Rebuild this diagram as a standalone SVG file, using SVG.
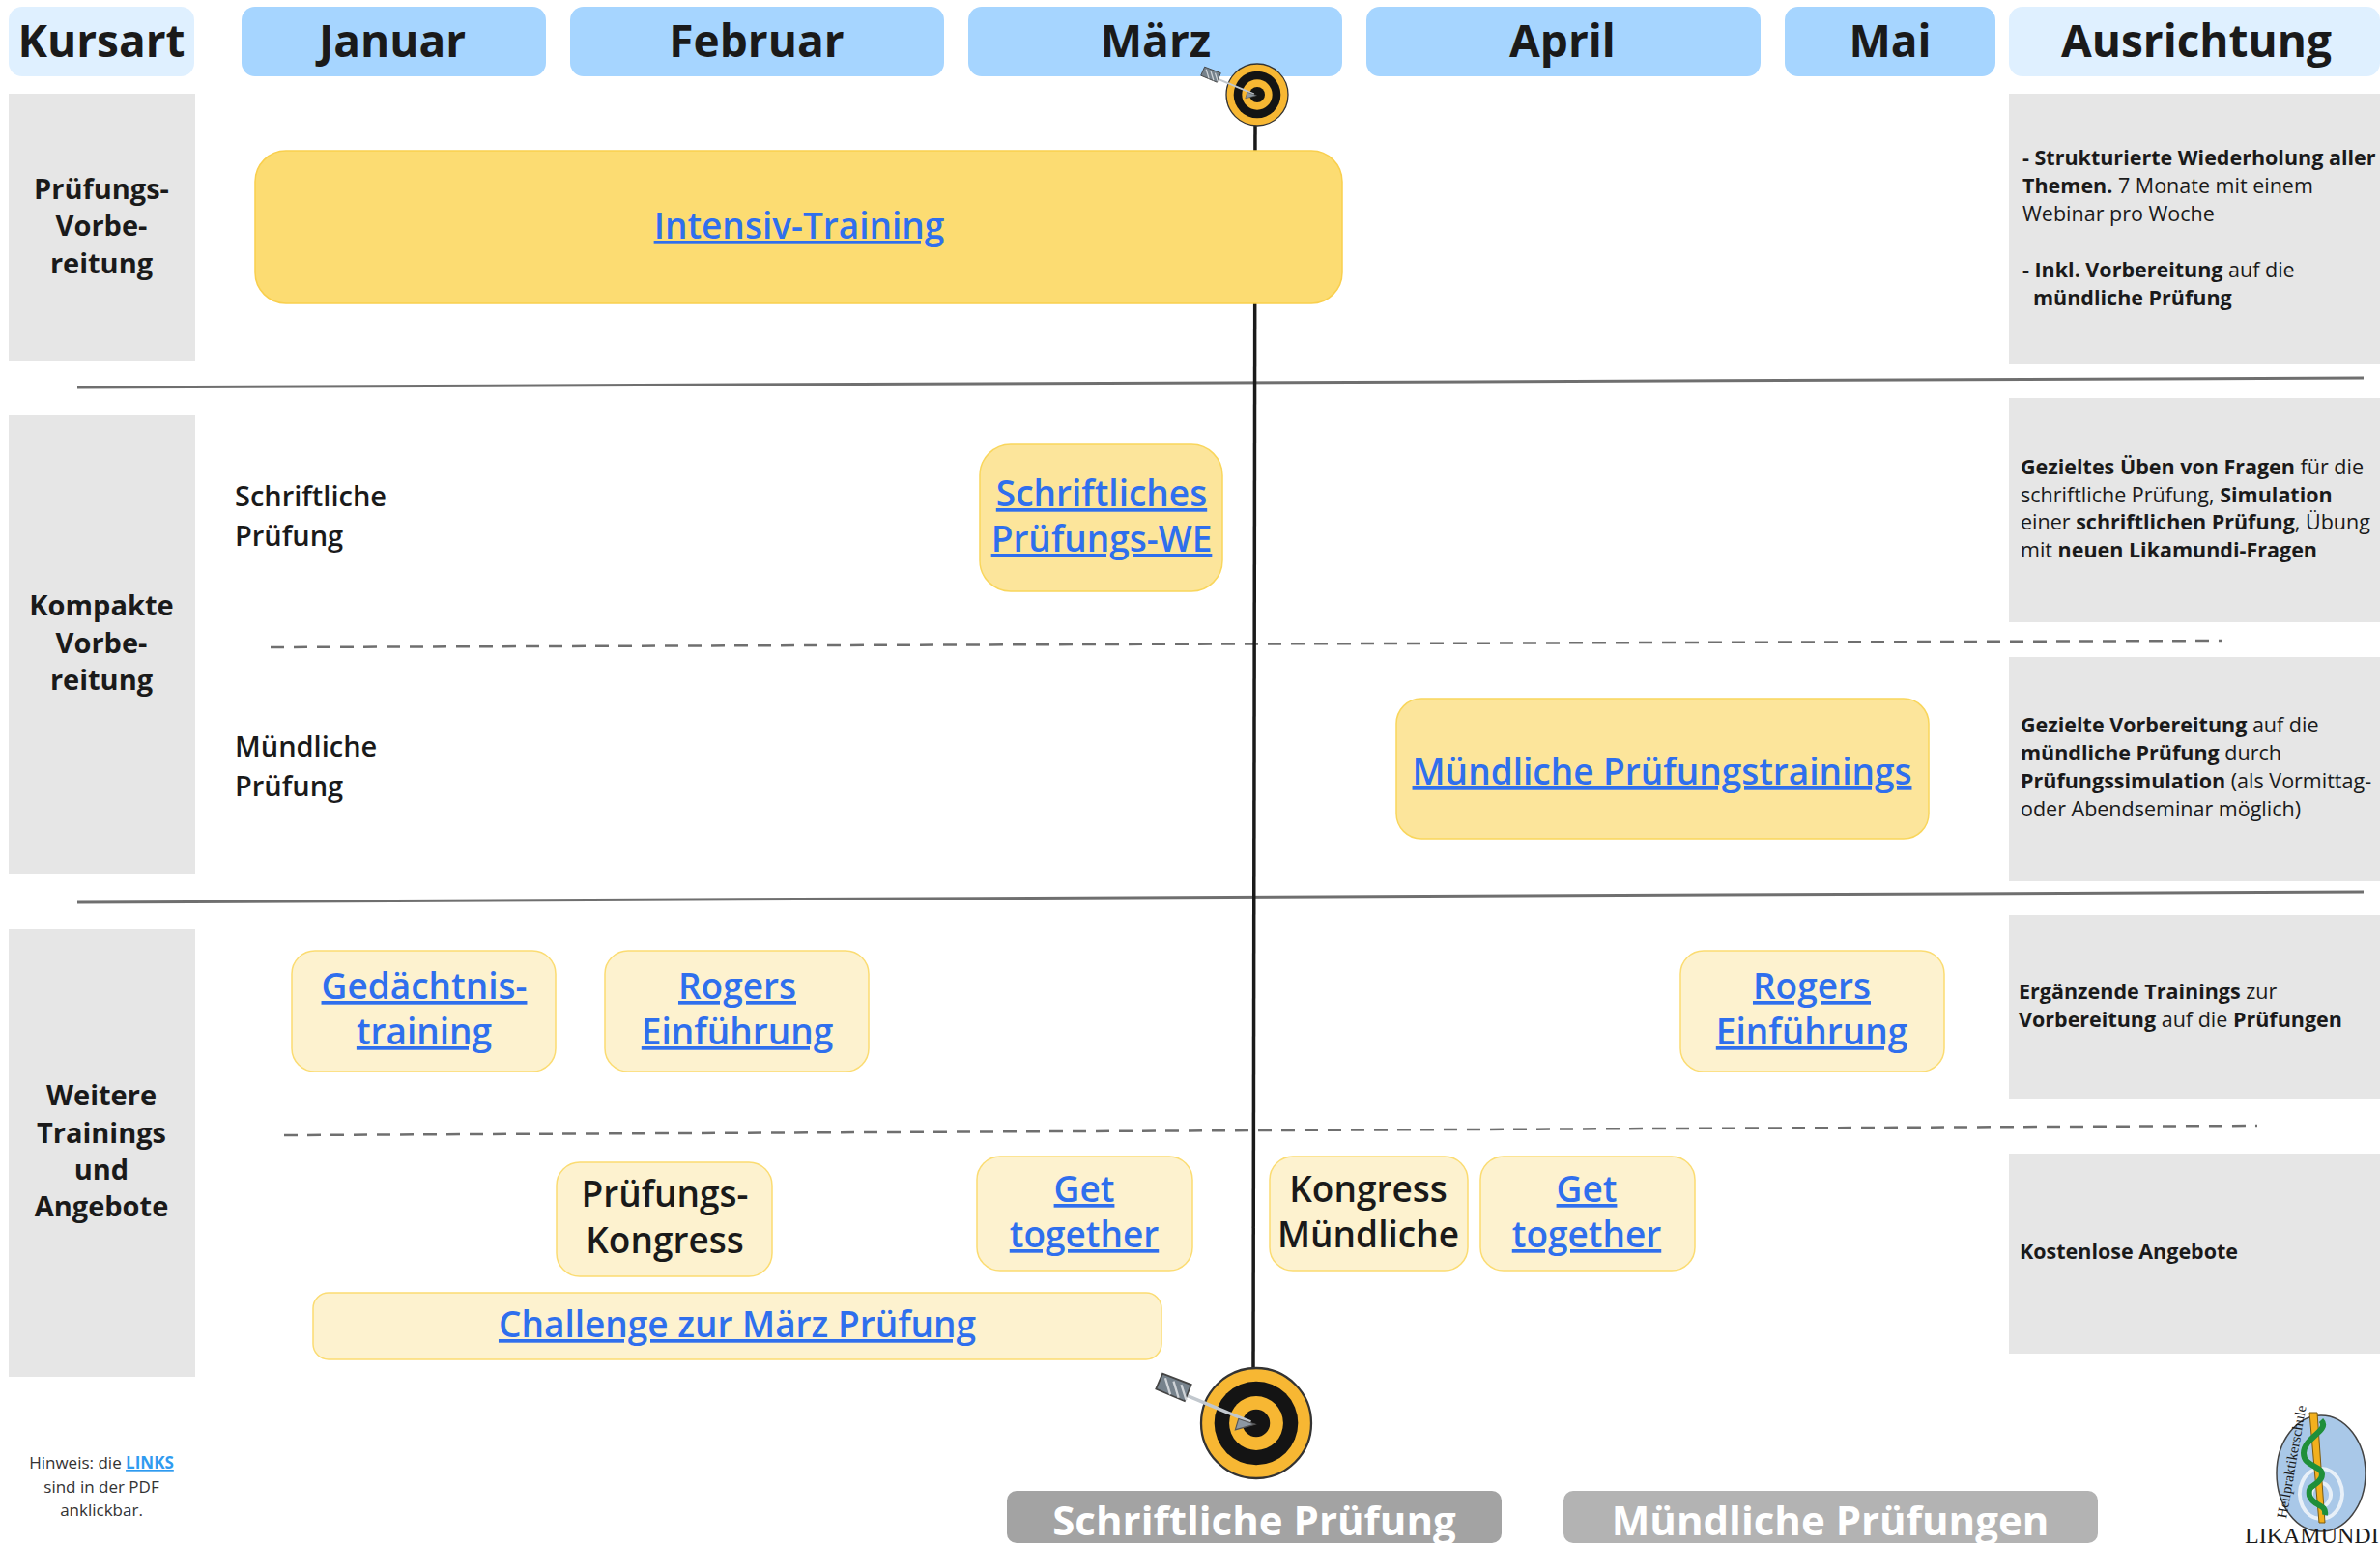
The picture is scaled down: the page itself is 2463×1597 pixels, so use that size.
<svg xmlns="http://www.w3.org/2000/svg" width="2463" height="1597" viewBox="0 0 2463 1597">
<style>
text{font-family:"Open Sans","Noto Sans","Liberation Sans",sans-serif;fill:#1a1a1a}
.h{font-size:46px;font-weight:700;text-anchor:middle}
.hb{fill:#a6d5ff}
.g{fill:#e6e6e6}
.c{font-size:29px;font-weight:700;text-anchor:middle}
.s{font-size:29px;font-weight:600}
.l{font-size:37px;font-weight:600;text-anchor:middle;fill:#2f6fed;text-decoration:underline}
.k{font-size:37px;font-weight:600;text-anchor:middle}
.t{font-size:21.5px}
.t b,.t .b{font-weight:700}
.y1{fill:#fcdc72;stroke:#f9cf4d;stroke-width:1.5}
.y2{fill:#fce59b;stroke:#f9d65c;stroke-width:1.5}
.y3{fill:#fdf2cf;stroke:#fbdc72;stroke-width:1.5}
.sep{stroke:#6f6f6f;stroke-width:3;fill:none}
.dash{stroke:#6f6f6f;stroke-width:2.5;stroke-dasharray:14 10;fill:none}
.foot{font-size:42px;font-weight:700;fill:#fff;text-anchor:middle}
.n{font-size:17px;text-anchor:middle;fill:#333}
</style>
<defs>
<g id="target">
<circle r="100" fill="#f7b733" stroke="#333" stroke-width="4"/>
<circle r="76" fill="#141414"/>
<circle r="49" fill="#f7b733"/>
<circle r="25" fill="#141414"/>
<path d="M-130 -52L-10 -2" stroke="#c2c8ce" stroke-width="6" fill="none"/>
<path d="M-32 -8L-2 2L-38 12Z" fill="#8d98a3" stroke="#555" stroke-width="2"/>
<path d="M-182 -62L-170 -90L-118 -70L-130 -40Z" fill="#76828c" stroke="#444" stroke-width="3"/>
<path d="M-165 -82L-156 -52M-150 -76L-141 -46M-136 -70L-127 -42" stroke="#d0d4d8" stroke-width="4" fill="none"/>
</g>
</defs>

<g id="headers">
<g id="h-kursart"><rect x="9" y="7" width="192" height="72" rx="14" fill="#dff0ff"/><text class="h" x="105" y="59">Kursart</text></g>
<g id="h-januar"><rect class="hb" x="250" y="7" width="315" height="72" rx="14"/><text class="h" x="406" y="59">Januar</text></g>
<g id="h-februar"><rect class="hb" x="590" y="7" width="387" height="72" rx="14"/><text class="h" x="783" y="59">Februar</text></g>
<g id="h-maerz"><rect class="hb" x="1002" y="7" width="387" height="72" rx="14"/><text class="h" x="1196" y="59">März</text></g>
<g id="h-april"><rect class="hb" x="1414" y="7" width="408" height="72" rx="14"/><text class="h" x="1617" y="59">April</text></g>
<g id="h-mai"><rect class="hb" x="1847" y="7" width="218" height="72" rx="14"/><text class="h" x="1956" y="59">Mai</text></g>
<g id="h-ausrichtung"><rect x="2079" y="7" width="384" height="72" rx="14" fill="#dff0ff"/><text class="h" x="2273" y="59">Ausrichtung</text></g>
</g>

<g id="cat-pruefung"><rect class="g" x="9" y="97" width="193" height="277"/><text class="c" x="105" y="206">Prüfungs-</text><text class="c" x="105" y="244">Vorbe-</text><text class="c" x="105" y="283">reitung</text></g>
<g id="cat-kompakt"><rect class="g" x="9" y="430" width="193" height="475"/><text class="c" x="105" y="637">Kompakte</text><text class="c" x="105" y="676">Vorbe-</text><text class="c" x="105" y="714">reitung</text></g>
<g id="cat-weitere"><rect class="g" x="9" y="962" width="193" height="463"/><text class="c" x="105" y="1144">Weitere</text><text class="c" x="105" y="1183">Trainings</text><text class="c" x="105" y="1221">und</text><text class="c" x="105" y="1259">Angebote</text></g>

<g id="connectors">
<path class="sep" d="M80 401L2446 391"/>
<path class="sep" d="M80 934L2446 923"/>
<path class="dash" d="M280 670L2300 663"/>
<path class="dash" d="M294 1175L2336 1165"/>
<path d="M1299 120L1297 1420" stroke="#1a1a1a" stroke-width="3.5" fill="none"/>
</g>

<g id="intensiv"><rect class="y1" x="264" y="156" width="1125" height="158" rx="32"/><text class="l" x="827" y="247">Intensiv-Training</text></g>
<g id="schriftlich-we"><rect class="y2" x="1014" y="460" width="251" height="152" rx="32"/><text class="l" x="1140" y="524">Schriftliches </text><text class="l" x="1140" y="571">Prüfungs-WE</text></g>
<g id="muendlich-tr"><rect class="y2" x="1445" y="723" width="551" height="145" rx="26"/><text class="l" x="1720" y="812">Mündliche Prüfungstrainings</text></g>
<g id="gedaechtnis"><rect class="y3" x="302" y="984" width="273" height="125" rx="24"/><text class="l" x="439" y="1034">Gedächtnis-</text><text class="l" x="439" y="1081">training</text></g>
<g id="rogers1"><rect class="y3" x="626" y="984" width="273" height="125" rx="24"/><text class="l" x="763" y="1034">Rogers </text><text class="l" x="763" y="1081">Einführung</text></g>
<g id="rogers2"><rect class="y3" x="1739" y="984" width="273" height="125" rx="24"/><text class="l" x="1875" y="1034">Rogers </text><text class="l" x="1875" y="1081">Einführung</text></g>
<g id="pk"><rect class="y3" x="576" y="1203" width="223" height="118" rx="24"/><text class="k" x="688" y="1249">Prüfungs-</text><text class="k" x="688" y="1297">Kongress</text></g>
<g id="gt1"><rect class="y3" x="1011" y="1197" width="223" height="118" rx="24"/><text class="l" x="1122" y="1244">Get </text><text class="l" x="1122" y="1291">together</text></g>
<g id="km"><rect class="y3" x="1314" y="1197" width="205" height="118" rx="24"/><text class="k" x="1416" y="1244">Kongress</text><text class="k" x="1416" y="1291">Mündliche</text></g>
<g id="gt2"><rect class="y3" x="1532" y="1197" width="222" height="118" rx="24"/><text class="l" x="1642" y="1244">Get </text><text class="l" x="1642" y="1291">together</text></g>
<g id="challenge"><rect class="y3" x="324" y="1338" width="878" height="69" rx="16"/><text class="l" x="763" y="1384">Challenge zur März Prüfung</text></g>

<g id="label-schriftlich"><text class="s" x="243" y="524">Schriftliche</text><text class="s" x="243" y="565">Prüfung</text></g>
<g id="label-muendlich"><text class="s" x="243" y="783">Mündliche</text><text class="s" x="243" y="824">Prüfung</text></g>

<g id="a1"><rect class="g" x="2079" y="97" width="384" height="280"/>
<text class="t" x="2093" y="171"><tspan font-weight="700">- Strukturierte Wiederholung aller</tspan></text>
<text class="t" x="2093" y="200"><tspan font-weight="700">Themen.</tspan> 7 Monate mit einem</text>
<text class="t" x="2093" y="229">Webinar pro Woche</text>
<text class="t" x="2093" y="287"><tspan font-weight="700">- Inkl. Vorbereitung</tspan> auf die</text>
<text class="t" x="2104" y="316"><tspan font-weight="700">mündliche Prüfung</tspan></text></g>
<g id="a2"><rect class="g" x="2079" y="412" width="384" height="232"/>
<text class="t" x="2091" y="491"><tspan font-weight="700">Gezieltes Üben von Fragen</tspan> für die</text>
<text class="t" x="2091" y="520">schriftliche Prüfung, <tspan font-weight="700">Simulation</tspan></text>
<text class="t" x="2091" y="548">einer <tspan font-weight="700">schriftlichen Prüfung</tspan>, Übung</text>
<text class="t" x="2091" y="577">mit <tspan font-weight="700">neuen Likamundi-Fragen</tspan></text></g>
<g id="a3"><rect class="g" x="2079" y="680" width="384" height="232"/>
<text class="t" x="2091" y="758"><tspan font-weight="700">Gezielte Vorbereitung</tspan> auf die</text>
<text class="t" x="2091" y="787"><tspan font-weight="700">mündliche Prüfung</tspan> durch</text>
<text class="t" x="2091" y="816"><tspan font-weight="700">Prüfungssimulation</tspan> (als Vormittag-</text>
<text class="t" x="2091" y="845">oder Abendseminar möglich)</text></g>
<g id="a4"><rect class="g" x="2079" y="947" width="384" height="190"/>
<text class="t" x="2089" y="1034"><tspan font-weight="700">Ergänzende Trainings</tspan> zur</text>
<text class="t" x="2089" y="1063"><tspan font-weight="700">Vorbereitung</tspan> auf die <tspan font-weight="700">Prüfungen</tspan></text></g>
<g id="a5"><rect class="g" x="2079" y="1194" width="384" height="207"/>
<text class="t" x="2090" y="1303" font-weight="700">Kostenlose Angebote</text></g>

<g id="target-top"><use href="#target" transform="translate(1301 98) scale(.32)"/></g>
<g id="target-bottom"><use href="#target" transform="translate(1300 1473) scale(.57)"/></g>

<g id="hinweis">
<text class="n" x="105" y="1520">Hinweis: die <tspan font-weight="700" fill="#2f9bf0" text-decoration="underline">LINKS</tspan></text>
<text class="n" x="105" y="1545">sind in der PDF</text>
<text class="n" x="105" y="1569">anklickbar.</text>
</g>

<g id="f1"><rect x="1042" y="1543" width="512" height="54" rx="10" fill="#a3a3a3"/><text class="foot" x="1298" y="1589">Schriftliche Prüfung</text></g>
<g id="f2"><rect x="1618" y="1543" width="553" height="54" rx="10" fill="#b3b3b3"/><text class="foot" x="1894" y="1589">Mündliche Prüfungen</text></g>

<g id="logo">
<ellipse cx="2402" cy="1525" rx="46" ry="60" fill="#a9c8e8" stroke="#444" stroke-width="1.5"/>
<path d="M2402 1520a22 26 0 1 1 -.1 0M2402 1535a10 12 0 1 1 -.1 0" fill="none" stroke="#e8f0f8" stroke-width="4"/>
<path d="M2390 1462L2398 1462L2406 1576L2400 1576Z" fill="#f2b01e" stroke="#7a5a10" stroke-width="1"/>
<path d="M2402 1470C2412 1480 2384 1488 2384 1504C2384 1520 2408 1516 2402 1530C2396 1540 2388 1536 2390 1548C2394 1560 2408 1556 2406 1568" fill="none" stroke="#1f8f3a" stroke-width="6"/>
<text x="0" y="0" transform="translate(2366 1572) rotate(-80)" font-size="15" style="font-family:'Liberation Serif',serif">Heilpraktikerschule</text>
<text x="2323" y="1597" font-size="24" style="font-family:'Liberation Serif',serif">LIKAMUNDI</text>
</g>
</svg>
